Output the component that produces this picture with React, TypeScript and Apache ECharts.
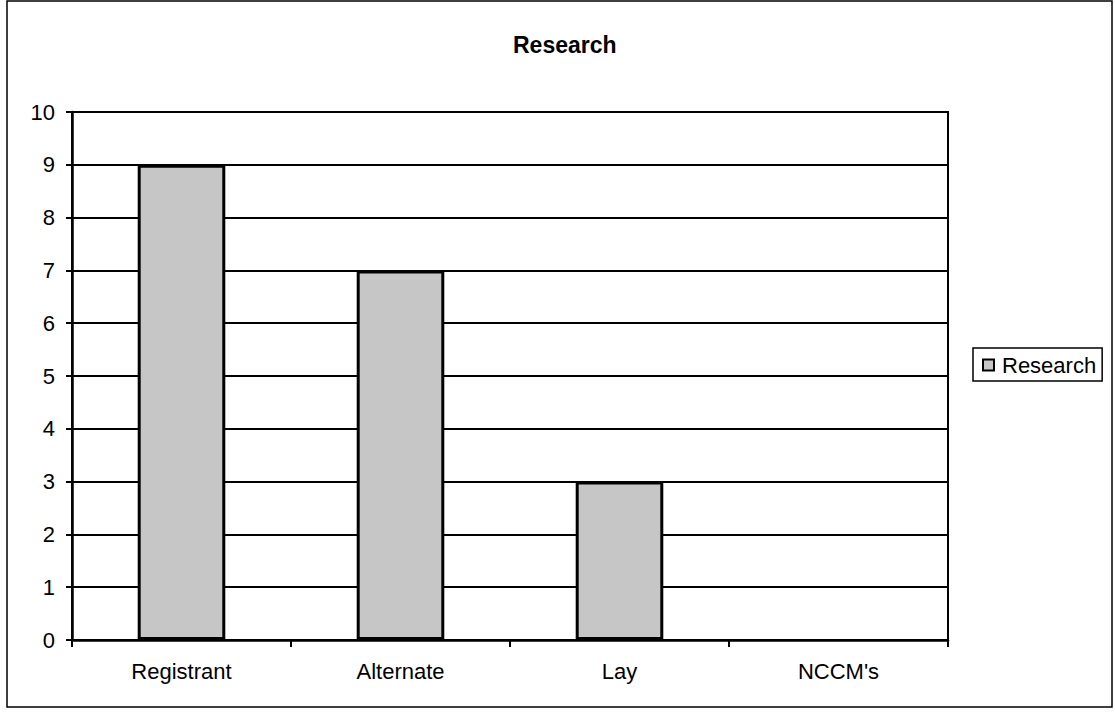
import React, { useEffect, useRef } from "react";
import * as echarts from "echarts";

const categories = ["Registrant", "Alternate", "Lay", "NCCM's"];
const researchValues = [9, 7, 3, 0];
const seriesName = "Research";
const chartTitle = "Research";

export default function App() {
  const ref = useRef<HTMLDivElement>(null);
  useEffect(() => {
    if (!ref.current) return;
    const chart = echarts.init(ref.current, undefined, { renderer: "svg" });
    const font = "Liberation Sans, Arial, sans-serif";
    chart.setOption({
      animation: false,
      backgroundColor: "#fff",
      title: {
        text: chartTitle,
        left: 508,
        top: 28,
        textStyle: { fontFamily: font, fontSize: 23, fontWeight: "bold", color: "#000" },
      },
      legend: {
        left: 973,
        top: 348,
        orient: "vertical",
        padding: [6, 6, 5, 9],
        borderColor: "#000",
        borderWidth: 1.5,
        itemWidth: 11,
        itemHeight: 11,
        icon: "rect",
        textStyle: { fontFamily: font, fontSize: 22, color: "#000", padding: [0, 0, 0, 3] },
        data: [seriesName],
      },
      grid: {
        left: 72,
        right: 167,
        top: 112,
        bottom: 73,
        show: true,
        borderColor: "#000",
        borderWidth: 2,
        backgroundColor: "#fff",
      },
      xAxis: {
        type: "category",
        data: categories,
        axisLine: { lineStyle: { color: "#000", width: 2.5 } },
        axisTick: { show: true, length: 7, lineStyle: { color: "#000", width: 2 } },
        axisLabel: { fontFamily: font, fontSize: 22, color: "#000", margin: 20 },
      },
      yAxis: {
        type: "value",
        min: 0,
        max: 10,
        interval: 1,
        axisLine: { show: true, lineStyle: { color: "#000", width: 2.5 } },
        axisTick: { show: true, length: 6, lineStyle: { color: "#000", width: 2 } },
        axisLabel: { fontFamily: font, fontSize: 22, color: "#000", margin: 17 },
        splitLine: { lineStyle: { color: "#000", width: 2.2 } },
      },
      series: [
        {
          name: seriesName,
          type: "bar",
          data: researchValues.map((v) =>
            v === 0 ? { value: v, itemStyle: { borderWidth: 0, opacity: 0 } } : v
          ),
          barWidth: "40%",
          itemStyle: {
            color: "#c6c6c6",
            borderColor: "#000",
            borderWidth: 3,
          },
        },
      ],
      graphic: [
        {
          type: "rect",
          shape: { x: 7, y: 1, width: 1105, height: 706 },
          style: { fill: "none", stroke: "#000", lineWidth: 1.5 },
          silent: true,
          z: 100,
        },
      ],
    });
    return () => chart.dispose();
  }, []);
  return (
    <div
      ref={ref}
      style={{ position: "fixed", left: 0, top: 0, width: 1115, height: 713 }}
    />
  );
}
